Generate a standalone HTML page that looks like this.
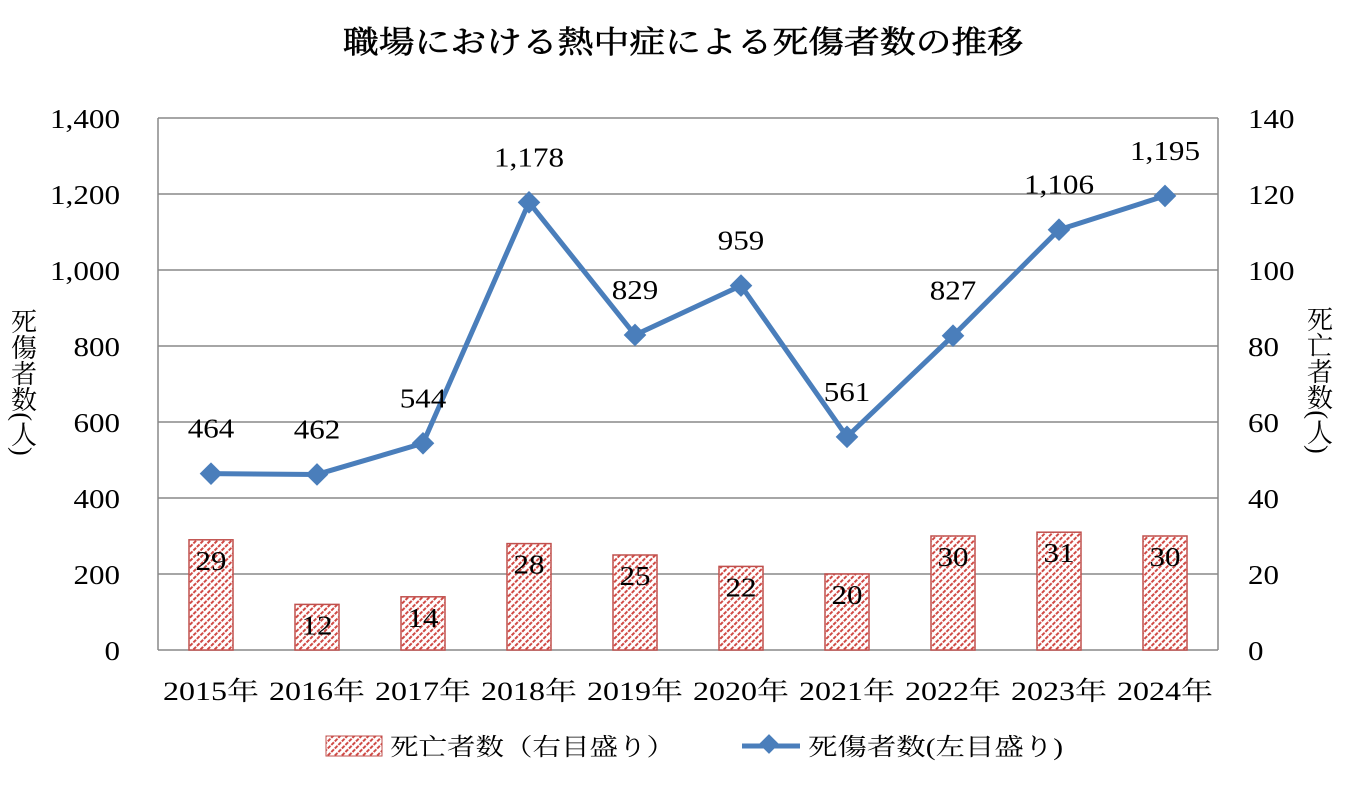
<!DOCTYPE html>
<html><head><meta charset="utf-8"><style>
body{margin:0;background:#fff;}
svg{display:block;font-family:"Liberation Serif","Noto Serif CJK SC",serif;}
</style></head><body>
<svg id="chart" width="1360" height="786" viewBox="0 0 1360 786">
<defs>
<pattern id="hatch" patternUnits="userSpaceOnUse" width="5" height="5" patternTransform="rotate(45)">
<rect width="5" height="5" fill="#fff"/>
<line x1="1" y1="0" x2="1" y2="5" stroke="#d04a45" stroke-width="2" stroke-dasharray="2.5,1.2"/>
</pattern>
</defs>
<text x="683" y="53" text-anchor="middle" font-size="31" textLength="680" lengthAdjust="spacingAndGlyphs" stroke="#000" stroke-width="0.6">職場における熱中症による死傷者数の推移</text>
<g id="grid"></g><g id="bars"></g><g id="line"></g><g id="axes"></g>
<text x="22" y="382" font-size="26" text-anchor="middle" style="writing-mode:vertical-rl">死傷者数(人)</text>
<text x="1318" y="380" font-size="26" text-anchor="middle" style="writing-mode:vertical-rl">死亡者数(人)</text>
<g>
<rect x="326" y="736" width="56" height="20" fill="url(#hatch)" stroke="#c0504d"/>
<text x="390" y="755" font-size="24" textLength="285" lengthAdjust="spacingAndGlyphs">死亡者数（右目盛り）</text>
<line x1="742" y1="746" x2="800" y2="746" stroke="#4a7ebb" stroke-width="5"/>
<rect x="762" y="737" width="14" height="14" fill="#4a7ebb" transform="rotate(45 769 744)"/>
<text x="808" y="755" font-size="24" textLength="255" lengthAdjust="spacingAndGlyphs">死傷者数(左目盛り)</text>
</g>
</svg>
<script>
const categories=["2015年","2016年","2017年","2018年","2019年","2020年","2021年","2022年","2023年","2024年"];
const casualties=[464,462,544,1178,829,959,561,827,1106,1195];
const deaths=[29,12,14,28,25,22,20,30,31,30];
const leftTicks=[0,200,400,600,800,1000,1200,1400];
const rightTicks=[0,20,40,60,80,100,120,140];
const X0=158,X1=1218,Y0=650,Y1=118;
const NS="http://www.w3.org/2000/svg";
const cw=(X1-X0)/categories.length;
const xc=i=>X0+cw*(i+0.5);
const yL=v=>Y0-(v/1400)*(Y0-Y1);
const yR=v=>Y0-(v/140)*(Y0-Y1);
function mk(tag,attrs,parent,text){const e=document.createElementNS(NS,tag);for(const k in attrs)e.setAttribute(k,attrs[k]);if(text!==undefined)e.textContent=text;document.getElementById(parent).appendChild(e);return e;}
const fmt=v=>v.toLocaleString("en-US");
const tl=s=>{let w=0;for(const ch of String(s))w+=(ch===","?8:15.5);return w;};
const LA="spacingAndGlyphs";
leftTicks.forEach((t,i)=>{
 const g=mk("line",{x1:X0,x2:X1,y1:yL(t),y2:yL(t),stroke:"#888","stroke-width":1.5},"grid");
 
 
 const a=mk("text",{x:X0-38,y:yL(t)+10,"text-anchor":"end","font-size":27,textLength:tl(fmt(t)),lengthAdjust:LA},"axes",fmt(t));
 
 
 const b=mk("text",{x:X1+30,y:yR(rightTicks[i])+10,"font-size":27,textLength:tl(rightTicks[i]),lengthAdjust:LA},"axes",rightTicks[i]);
 
 
});
const la=mk("line",{x1:X0,x2:X0,y1:Y1,y2:Y0,stroke:"#888","stroke-width":1.5},"axes");


const ra=mk("line",{x1:X1,x2:X1,y1:Y1,y2:Y0,stroke:"#888","stroke-width":1.5},"axes");


categories.forEach((c,i)=>{
 const t=mk("text",{x:xc(i),y:700,"text-anchor":"middle","font-size":26,textLength:96,lengthAdjust:LA},"axes",c);
 
 
});
deaths.forEach((d,i)=>{
 const top=yR(d);
 const r=mk("rect",{x:xc(i)-22,y:top,width:44,height:Y0-top,fill:"url(#hatch)",stroke:"#c0504d","stroke-width":1.5},"bars");
 
 
 const t=mk("text",{x:xc(i),y:Math.min(top+30,Y0-2),"text-anchor":"middle","font-size":27,textLength:tl(d),lengthAdjust:LA},"bars",d);
 
 
});
const pts=casualties.map((v,i)=>xc(i)+","+yL(v)).join(" ");
const pl=mk("polyline",{points:pts,fill:"none",stroke:"#4a7ebb","stroke-width":5,"stroke-linejoin":"round"},"line");


casualties.forEach((v,i)=>{
 const m=mk("rect",{x:xc(i)-8,y:yL(v)-8,width:16,height:16,fill:"#4a7ebb",transform:`rotate(45 ${xc(i)} ${yL(v)})`},"line");
 
 
 const t=mk("text",{x:xc(i),y:yL(v)-36,"text-anchor":"middle","font-size":27,textLength:tl(fmt(v)),lengthAdjust:LA},"line",fmt(v));
 
 
});
</script>
</body></html>
